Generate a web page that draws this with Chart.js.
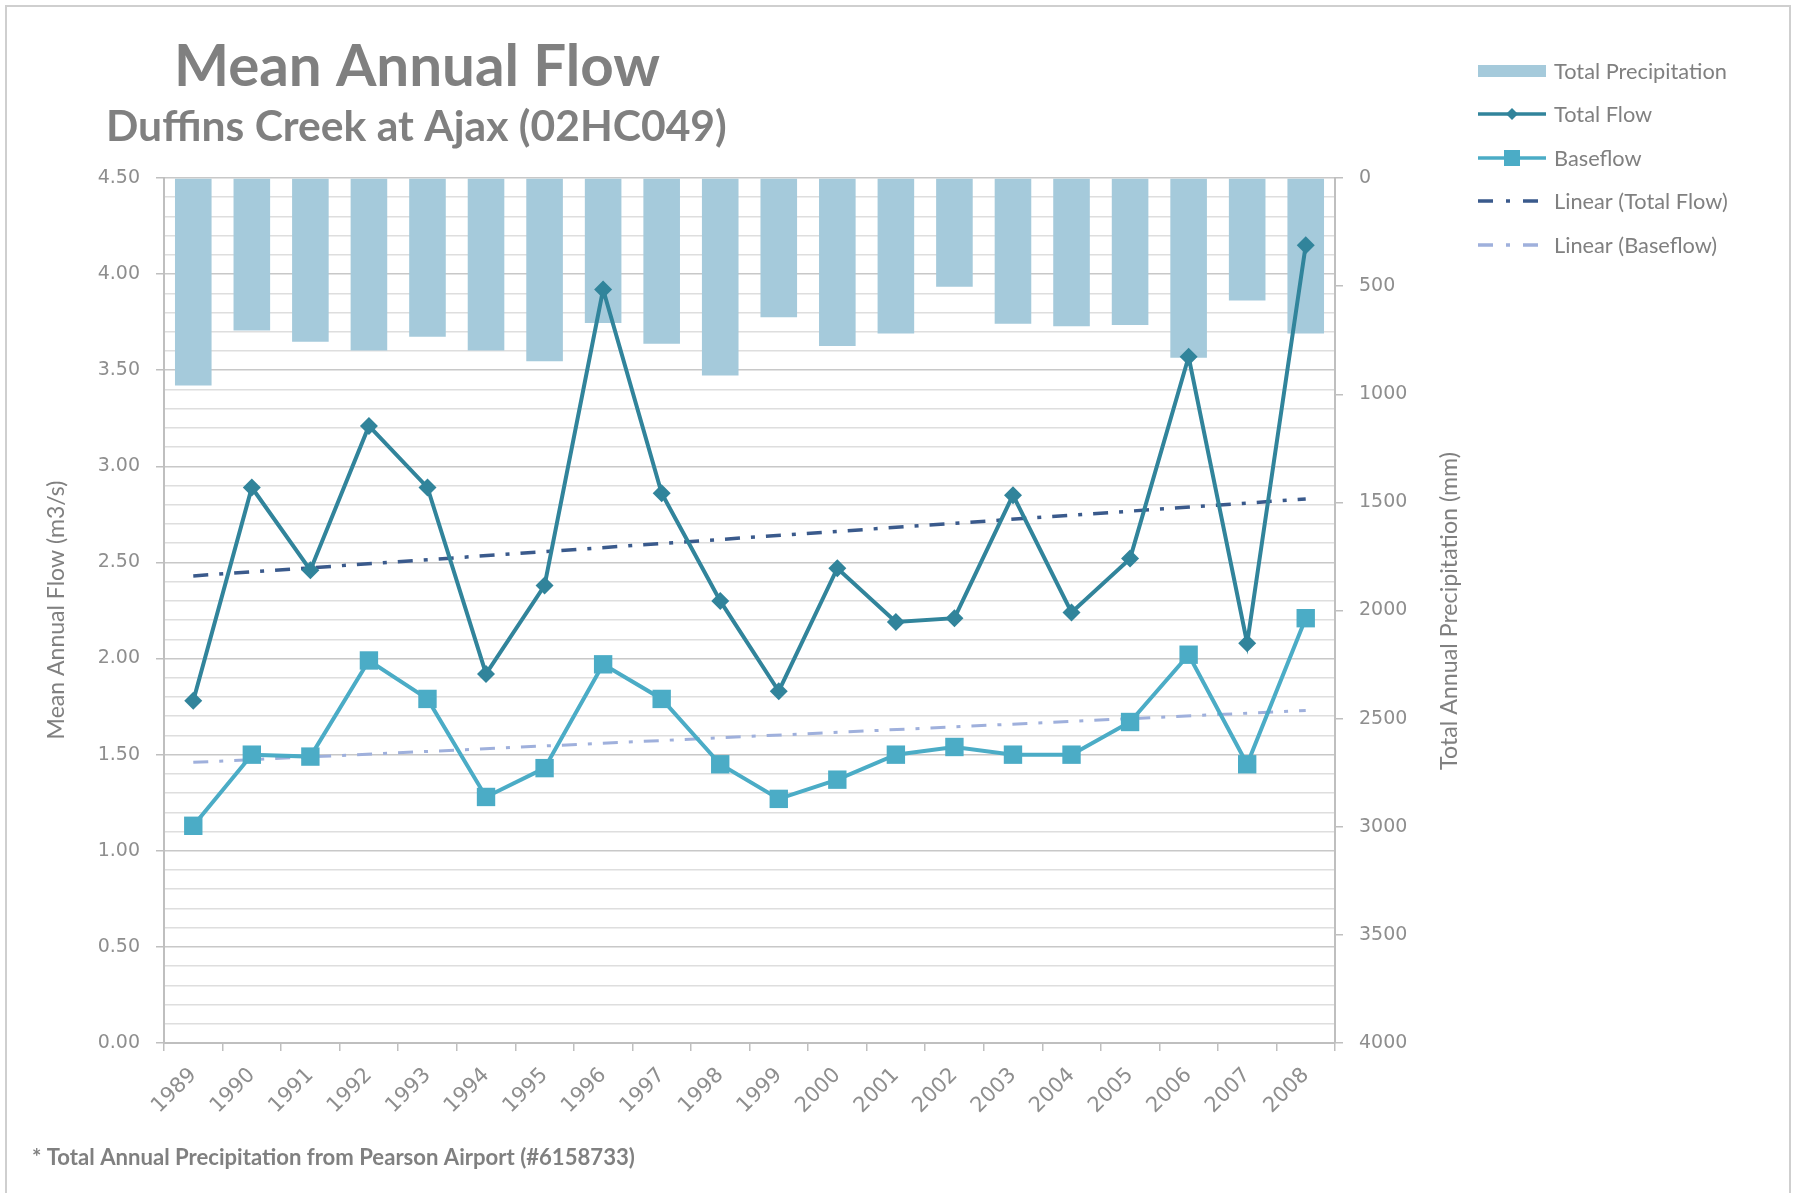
<!DOCTYPE html>
<html>
<head>
<meta charset="utf-8">
<title>Mean Annual Flow</title>
<script src="https://cdn.jsdelivr.net/npm/chart.js@4.4.1/dist/chart.umd.min.js"></script>
<style>
  html, body { margin: 0; padding: 0; background: #ffffff; }
  canvas { display: block; }
</style>
</head>
<body>
<canvas id="flowChart" width="1794" height="1193"></canvas>
<script>
const years = ["1989", "1990", "1991", "1992", "1993", "1994", "1995", "1996", "1997", "1998",
  "1999", "2000", "2001", "2002", "2003", "2004", "2005", "2006", "2007", "2008"];

// mm, hanging from the top on the reversed right axis
const precipitation = [959, 705, 757, 798, 734, 798, 847, 670, 767, 913,
  644, 777, 719, 503, 674, 685, 680, 831, 567, 719];

// m3/s
const totalFlow = [1.78, 2.89, 2.46, 3.21, 2.89, 1.92, 2.38, 3.92, 2.86, 2.30,
  1.83, 2.47, 2.19, 2.21, 2.85, 2.24, 2.52, 3.57, 2.08, 4.15];
const baseflow = [1.13, 1.50, 1.49, 1.99, 1.79, 1.28, 1.43, 1.97, 1.79, 1.45,
  1.27, 1.37, 1.50, 1.54, 1.50, 1.50, 1.67, 2.02, 1.45, 2.21];

// trend line ends (first year, last year)
const trendTotalEnds = [2.43, 2.83];
const trendBaseEnds = [1.46, 1.73];

const precipTicks = [0, 500, 1000, 1500, 2000, 2500, 3000, 3500, 4000];

const COLORS = {
  bar: "#a5cadb",
  flow: "#31849b",
  base: "#4bacc6",
  trendFlow: "#3a5a8c",
  trendBase: "#9fb0dc",
  text: "#808080",
  tick: "#8e8e8e",
  axis: "#bfbfbf"
};

function endsOnly(ends) {
  return years.map((y, i) => {
    if (i === 0) return ends[0];
    if (i === years.length - 1) return ends[1];
    return null;
  });
}

function isMajor(value) {
  return Math.abs(value * 2 - Math.round(value * 2)) < 1e-6;
}

function fitText(ctx, text, weight, family, width) {
  ctx.font = `${weight} 100px ${family}`;
  const size = 100 * width / ctx.measureText(text).width;
  ctx.font = `${weight} ${size}px ${family}`;
  return size;
}

const legendItems = [
  { label: "Total Precipitation", kind: "bar", color: COLORS.bar },
  { label: "Total Flow", kind: "line", marker: "diamond", color: COLORS.flow },
  { label: "Baseflow", kind: "line", marker: "square", color: COLORS.base },
  { label: "Linear (Total Flow)", kind: "trend", color: COLORS.trendFlow },
  { label: "Linear (Baseflow)", kind: "trend", color: COLORS.trendBase }
];

const textPlugin = {
  id: "textPlugin",
  afterDraw(chart) {
    const ctx = chart.ctx;
    ctx.save();

    // frame
    ctx.strokeStyle = "#cfcfcf";
    ctx.lineWidth = 2;
    ctx.strokeRect(6, 6, 1784, 1200);

    ctx.fillStyle = COLORS.text;
    ctx.textAlign = "left";
    ctx.textBaseline = "alphabetic";

    fitText(ctx, "Mean Annual Flow", "bold", "Lato", 486);
    ctx.fillText("Mean Annual Flow", 174, 86);

    fitText(ctx, "Duffins Creek at Ajax (02HC049)", "bold", "Lato", 621);
    ctx.fillText("Duffins Creek at Ajax (02HC049)", 106, 141);

    fitText(ctx, "* Total Annual Precipitation from Pearson Airport (#6158733)", "bold", "Lato", 603);
    ctx.fillText("* Total Annual Precipitation from Pearson Airport (#6158733)", 32, 1165);

    // axis titles, both reading upwards
    ctx.textAlign = "center";
    ctx.textBaseline = "middle";
    ctx.save();
    ctx.translate(57, 610);
    ctx.rotate(-Math.PI / 2);
    fitText(ctx, "Mean Annual Flow (m3/s)", "normal", "Lato", 259);
    ctx.fillText("Mean Annual Flow (m3/s)", 0, 0);
    ctx.restore();

    ctx.save();
    ctx.translate(1450, 611);
    ctx.rotate(-Math.PI / 2);
    fitText(ctx, "Total Annual Precipitation (mm)", "normal", "Lato", 318);
    ctx.fillText("Total Annual Precipitation (mm)", 0, 0);
    ctx.restore();

    // legend
    const rowY = [71, 114, 158, 201, 245];
    const x0 = 1478;
    const x1 = 1546;
    const midX = 1512;
    const legendSize = fitText(ctx, "Total Precipitation", "normal", "Lato", 173);

    legendItems.forEach((item, i) => {
      const y = rowY[i];
      ctx.fillStyle = item.color;
      ctx.strokeStyle = item.color;

      if (item.kind === "bar") {
        ctx.fillRect(x0, y - 6, x1 - x0, 12);
      } else if (item.kind === "line") {
        ctx.lineWidth = 3.5;
        ctx.setLineDash([]);
        ctx.beginPath();
        ctx.moveTo(x0, y);
        ctx.lineTo(x1, y);
        ctx.stroke();
        if (item.marker === "diamond") {
          ctx.beginPath();
          ctx.moveTo(midX, y - 6);
          ctx.lineTo(midX + 6, y);
          ctx.lineTo(midX, y + 6);
          ctx.lineTo(midX - 6, y);
          ctx.closePath();
          ctx.fill();
        } else {
          ctx.fillRect(midX - 8, y - 8, 16, 16);
        }
      } else {
        ctx.lineWidth = 3.5;
        ctx.setLineDash([15, 13, 4, 13]);
        ctx.beginPath();
        ctx.moveTo(x0, y);
        ctx.lineTo(x1, y);
        ctx.stroke();
        ctx.setLineDash([]);
      }

      ctx.fillStyle = COLORS.text;
      ctx.font = `normal ${legendSize}px Lato`;
      ctx.textAlign = "left";
      ctx.textBaseline = "middle";
      ctx.fillText(item.label, 1554, y + 1);
    });

    ctx.restore();
  }
};

const tickFont = { family: "DejaVu Sans", size: 19 };

new Chart(document.getElementById("flowChart"), {
  type: "bar",
  data: {
    labels: years,
    datasets: [
      {
        type: "line",
        label: "Linear (Total Flow)",
        data: endsOnly(trendTotalEnds),
        yAxisID: "y",
        borderColor: COLORS.trendFlow,
        borderWidth: 3.5,
        borderDash: [15, 11, 4, 11],
        pointRadius: 0,
        spanGaps: true,
        order: 3
      },
      {
        type: "line",
        label: "Linear (Baseflow)",
        data: endsOnly(trendBaseEnds),
        yAxisID: "y",
        borderColor: COLORS.trendBase,
        borderWidth: 3,
        borderDash: [15, 11, 4, 11],
        pointRadius: 0,
        spanGaps: true,
        order: 3
      },
      {
        type: "line",
        label: "Baseflow",
        data: baseflow,
        yAxisID: "y",
        borderColor: COLORS.base,
        backgroundColor: COLORS.base,
        borderWidth: 4,
        pointStyle: "rect",
        pointRadius: 13,
        pointBorderWidth: 0,
        tension: 0,
        order: 2
      },
      {
        type: "line",
        label: "Total Flow",
        data: totalFlow,
        yAxisID: "y",
        borderColor: COLORS.flow,
        backgroundColor: COLORS.flow,
        borderWidth: 4,
        pointStyle: "rectRot",
        pointRadius: 9,
        pointBorderWidth: 0,
        tension: 0,
        order: 1
      },
      {
        type: "bar",
        label: "Total Precipitation",
        data: precipitation,
        yAxisID: "y2",
        backgroundColor: COLORS.bar,
        categoryPercentage: 1,
        barPercentage: 0.625,
        order: 5
      }
    ]
  },
  options: {
    responsive: false,
    animation: false,
    layout: {
      padding: { top: 178, left: 0, right: 0, bottom: 0 }
    },
    plugins: {
      legend: { display: false },
      tooltip: { enabled: false },
      title: { display: false }
    },
    scales: {
      x: {
        offset: true,
        afterFit: scale => { scale.height = 150; },
        grid: {
          offset: true,
          drawOnChartArea: false,
          drawTicks: true,
          tickLength: 8,
          color: COLORS.axis,
          lineWidth: 1.5
        },
        border: { color: COLORS.axis, width: 2 },
        ticks: {
          color: COLORS.tick,
          font: { family: "DejaVu Sans", size: 21 },
          minRotation: 45,
          maxRotation: 45,
          autoSkip: false,
          padding: 12
        }
      },
      y: {
        position: "left",
        min: 0,
        max: 4.5,
        afterFit: scale => { scale.width = 164; },
        afterBuildTicks: scale => {
          const list = [];
          for (let i = 0; i <= 45; i++) list.push({ value: i / 10 });
          scale.ticks = list;
        },
        grid: {
          color: ctx => isMajor(ctx.tick.value) ? "#c8c8c8" : "#dedede",
          tickColor: ctx => isMajor(ctx.tick.value) ? COLORS.axis : "rgba(0,0,0,0)",
          lineWidth: 1.5,
          tickLength: 8
        },
        border: { color: COLORS.axis, width: 2 },
        ticks: {
          color: COLORS.tick,
          font: tickFont,
          padding: 16,
          autoSkip: false,
          callback: value => isMajor(value) ? value.toFixed(2) : ""
        }
      },
      y2: {
        position: "right",
        reverse: true,
        min: 0,
        max: 4000,
        afterFit: scale => { scale.width = 459; },
        afterBuildTicks: scale => {
          scale.ticks = precipTicks.map(v => ({ value: v }));
        },
        grid: {
          drawOnChartArea: false,
          color: COLORS.axis,
          lineWidth: 1.5,
          tickLength: 8
        },
        border: { color: COLORS.axis, width: 2 },
        ticks: {
          color: COLORS.tick,
          font: tickFont,
          padding: 16,
          callback: value => String(value)
        }
      }
    }
  },
  plugins: [textPlugin]
});
</script>
</body>
</html>
